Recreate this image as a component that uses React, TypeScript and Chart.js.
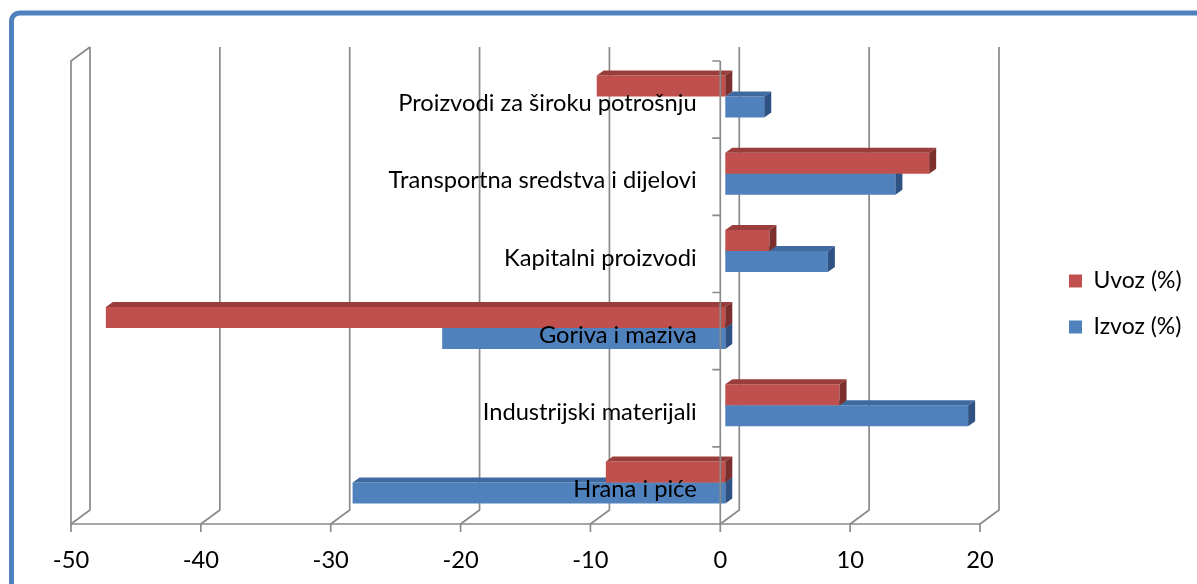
import React, { useEffect, useRef } from 'react';
import { Chart, registerables } from 'chart.js';

Chart.register(...registerables);

// ---- data (top to bottom, as in the picture) ----
const categories = [
  'Proizvodi za široku potrošnju',
  'Transportna sredstva i dijelovi',
  'Kapitalni proizvodi',
  'Goriva i maziva',
  'Industrijski materijali',
  'Hrana i piće',
];
const seriesNames = ['Uvoz (%)', 'Izvoz (%)'];
const uvoz = [-9.9, 15.7, 3.4, -47.7, 8.8, -9.2];
const izvoz = [3.0, 13.1, 7.9, -21.8, 18.7, -28.7];
const xMin = -50;
const xMax = 20;
const xStep = 10;

// ---- styles ----
const FONT = 'Lato, "Open Sans", sans-serif';
const TEXT_SIZE = 23.7;
const LABEL_ANCHOR = -2.2; // x-value where the category labels end (just left of 0)
const GRID = '#8a8a8a';
const FRAME = '#4F81BD';
const FRONT = { dx: -5, dy: 3 };
const BACK = { dx: 14, dy: -11 };
const BAR_DEPTH = { dx: 7, dy: 5 };
const RED = '#C0504D';
const RED_TOP = '#9A3E3B';
const RED_SIDE = '#7C2F2D';
const BLUE = '#4F81BD';
const BLUE_TOP = '#3F6A9F';
const BLUE_SIDE = '#2E5283';
const faceColors = [
  { top: RED_TOP, side: RED_SIDE },
  { top: BLUE_TOP, side: BLUE_SIDE },
];

const frame3d = {
  id: 'frame3d',
  beforeDraw(chart: any) {
    const ctx = chart.ctx;
    ctx.save();
    ctx.fillStyle = '#ffffff';
    ctx.fillRect(0, 0, chart.width, chart.height);
    ctx.strokeStyle = FRAME;
    ctx.lineWidth = 5;
    ctx.beginPath();
    ctx.roundRect(11.5, 13, 1600, 900, 8);
    ctx.stroke();
    ctx.restore();
  },
  beforeDatasetsDraw(chart: any) {
    const { ctx, chartArea } = chart;
    const x = chart.scales.x;
    const fb = chartArea.bottom + FRONT.dy;
    const ft = chartArea.top + FRONT.dy;
    const bb = chartArea.bottom + BACK.dy;
    const bt = chartArea.top + BACK.dy;
    ctx.save();
    ctx.strokeStyle = GRID;
    ctx.lineWidth = 1.7;
    x.ticks.forEach((t: any) => {
      const px = x.getPixelForValue(t.value);
      ctx.beginPath();
      ctx.moveTo(px + BACK.dx, bt);
      ctx.lineTo(px + BACK.dx, bb);
      ctx.lineTo(px + FRONT.dx, fb);
      ctx.lineTo(px + FRONT.dx, fb + 8);
      ctx.stroke();
    });
    const l = x.getPixelForValue(xMin);
    const r = x.getPixelForValue(xMax);
    ctx.beginPath();
    ctx.moveTo(r + FRONT.dx, fb);
    ctx.lineTo(l + FRONT.dx, fb);
    ctx.lineTo(l + FRONT.dx, ft);
    ctx.lineTo(l + BACK.dx, bt);
    ctx.stroke();
    ctx.restore();
  },
  afterDatasetDraw(chart: any, args: any) {
    const ctx = chart.ctx;
    const meta = args.meta;
    const col = faceColors[args.index];
    ctx.save();
    meta.data.forEach((el: any) => {
      const p = el.getProps(['x', 'y', 'base', 'height'], true);
      const left = Math.min(p.x, p.base);
      const right = Math.max(p.x, p.base);
      const top = p.y - p.height / 2;
      const bottom = p.y + p.height / 2;
      ctx.fillStyle = col.top;
      ctx.beginPath();
      ctx.moveTo(left, top);
      ctx.lineTo(left + BAR_DEPTH.dx, top - BAR_DEPTH.dy);
      ctx.lineTo(right + BAR_DEPTH.dx, top - BAR_DEPTH.dy);
      ctx.lineTo(right, top);
      ctx.closePath();
      ctx.fill();
      ctx.fillStyle = col.side;
      ctx.beginPath();
      ctx.moveTo(right, top);
      ctx.lineTo(right + BAR_DEPTH.dx, top - BAR_DEPTH.dy);
      ctx.lineTo(right + BAR_DEPTH.dx, bottom - BAR_DEPTH.dy);
      ctx.lineTo(right, bottom);
      ctx.closePath();
      ctx.fill();
    });
    ctx.restore();
  },
  afterDatasetsDraw(chart: any) {
    const { ctx } = chart;
    const x = chart.scales.x;
    const y = chart.scales.y;
    const ax = x.getPixelForValue(0) + FRONT.dx;
    ctx.save();
    ctx.strokeStyle = GRID;
    ctx.lineWidth = 1.7;
    const top = y.getPixelForValue(-0.5) + FRONT.dy;
    const bottom = y.getPixelForValue(categories.length - 0.5) + FRONT.dy;
    ctx.beginPath();
    ctx.moveTo(ax, top);
    ctx.lineTo(ax, bottom);
    for (let i = 0; i < categories.length; i++) {
      const py = y.getPixelForValue(i - 0.5) + FRONT.dy;
      ctx.moveTo(ax, py);
      ctx.lineTo(ax - 8, py);
    }
    ctx.stroke();
    ctx.restore();
  },
};

export default function App() {
  const ref = useRef<HTMLCanvasElement>(null);
  useEffect(() => {
    const chart = new Chart(ref.current as HTMLCanvasElement, {
      type: 'bar',
      data: {
        labels: categories,
        datasets: [
          {
            label: seriesNames[0],
            data: uvoz,
            backgroundColor: RED,
            borderWidth: 0,
            categoryPercentage: 0.545,
            barPercentage: 1,
          },
          {
            label: seriesNames[1],
            data: izvoz,
            backgroundColor: BLUE,
            borderWidth: 0,
            categoryPercentage: 0.545,
            barPercentage: 1,
          },
        ],
      },
      options: {
        indexAxis: 'y',
        responsive: false,
        animation: false,
        devicePixelRatio: 1,
        layout: { padding: { left: 76, top: 58, right: 11, bottom: 11 } },
        scales: {
          x: {
            type: 'linear',
            min: xMin,
            max: xMax,
            ticks: {
              stepSize: xStep,
              font: { family: FONT, size: TEXT_SIZE },
              color: '#000',
              padding: 25,
              labelOffset: -5,
            },
            grid: { display: false, drawTicks: false },
            border: { display: false },
            afterFit: (s: any) => {
              s.height = 52;
            },
          },
          y: {
            type: 'category',
            position: { x: LABEL_ANCHOR },
            grid: { display: false, drawTicks: false },
            border: { display: false },
            ticks: {
              z: 1,
              font: { family: FONT, size: TEXT_SIZE },
              color: '#000',
              padding: 0,
              labelOffset: 7,
              autoSkip: false,
            },
          },
          gap: {
            type: 'linear',
            position: 'right',
            display: true,
            grid: { display: false, drawTicks: false },
            border: { display: false },
            ticks: { display: false },
            afterFit: (s: any) => {
              s.width = 61;
            },
          },
        } as any,
        plugins: {
          legend: {
            position: 'right',
            fullSize: false,
            maxWidth: 140,
            title: { display: true, text: '', font: { size: 29, lineHeight: 1 }, padding: 0 },
            labels: {
              boxWidth: 13,
              boxHeight: 13,
              padding: 23,
              color: '#000',
              font: { family: FONT, size: 23 },
            },
          },
          tooltip: { enabled: false },
        },
      } as any,
      plugins: [frame3d],
    });
    return () => chart.destroy();
  }, []);
  return (
    <div style={{ position: 'fixed', left: 0, top: 0, width: 1197, height: 584, background: '#fff' }}>
      <canvas ref={ref} width={1197} height={584} style={{ display: 'block' }} />
    </div>
  );
}
